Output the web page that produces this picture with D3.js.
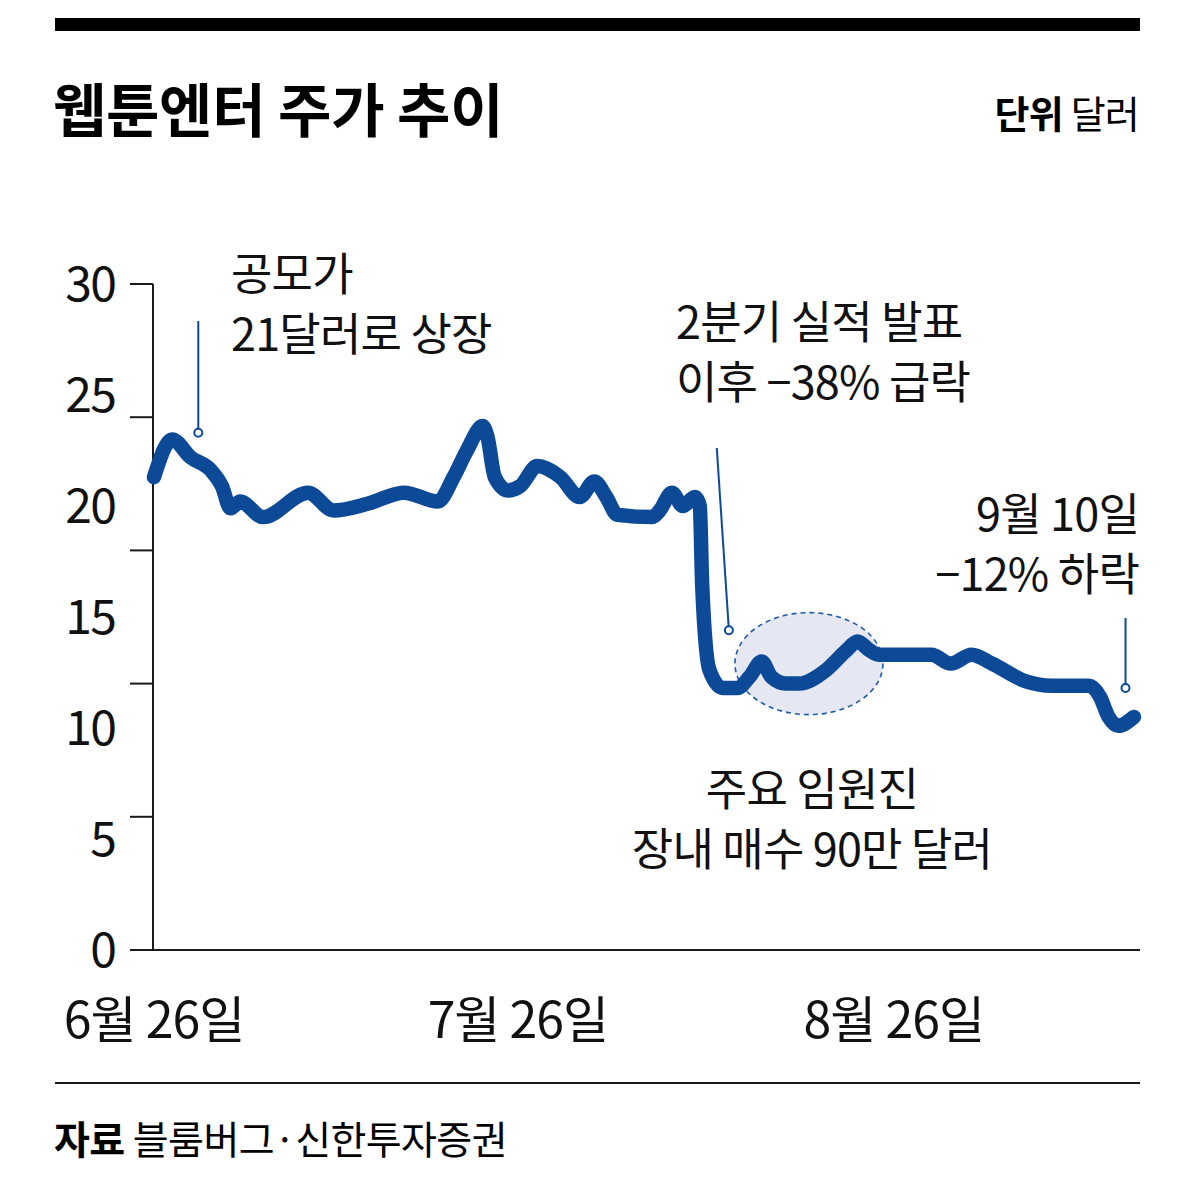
<!DOCTYPE html>
<html><head><meta charset="utf-8">
<script src="https://cdn.jsdelivr.net/npm/d3@7"></script>
<style>
body{margin:0;background:#fff;}
svg{display:block;font-family:"Noto Sans CJK KR","Noto Sans",sans-serif;}
</style></head>
<body><svg id="c" width="1200" height="1197"></svg>
<script>
// Day offsets from June 26 and closing prices (USD)
const days = [0,1.5,3,4.7,5.6,6.3,7.1,9,12.7,14.8,17.6,20.6,23.4,24.7,25.8,27.1,27.5,28.1,29.2,30.2,31.6,33.5,35.1,36.3,37.3,38.2,41.1,41.7,42.7,43.6,44.6,45.0,45.2,45.8,46.9,48.1,49.1,50.1,50.9,52.1,53.2,55.4,57.1,58.0,59.0,59.8,64.1,65.7,67.4,69.1,71.9,74.0,77.1,78.0,78.7,79.5,80.8];
const prices = [21.3,23.0,22.2,21.6,20.9,19.9,20.2,19.5,20.6,19.8,20.1,20.6,20.2,21.3,22.5,23.6,23.1,21.3,20.7,20.9,21.8,21.3,20.4,21.1,20.4,19.6,19.5,19.8,20.6,20.0,20.4,20.0,16.4,12.6,11.8,11.8,12.3,13.0,12.3,12.0,12.0,12.6,13.5,13.9,13.5,13.3,13.3,12.9,13.3,12.9,12.1,11.9,11.9,11.4,10.5,10.1,10.5];
const yLabelValues = [0,5,10,15,20,25,30];
const yTickValues = [0,6,12,18,24,30];
const xTickDays = [0,30,61];
const xTickLabels = ["6월 26일","7월 26일","8월 26일"];

const svg = d3.select("#c");
const x = d3.scaleLinear().domain([0,80.8]).range([154,1134]);
const y = d3.scaleLinear().domain([0,30]).range([950,284]);
const ink = "#1a1a1a", blue = "#0c4a97";

// top bar
svg.append("rect").attr("x",55).attr("y",18).attr("width",1085).attr("height",13).attr("fill","#000");
// title
svg.append("text").attr("x",53).attr("y",132).attr("font-size",58).attr("font-weight",700)
  .attr("letter-spacing",-0.3).attr("fill","#000").text("웹툰엔터 주가 추이");
const unit = svg.append("text").attr("x",1139).attr("y",128).attr("text-anchor","end").attr("font-size",38).attr("letter-spacing",-0.8).attr("fill","#000");
unit.append("tspan").attr("font-weight",700).text("단위 ");
unit.append("tspan").attr("font-weight",400).text("달러");

// y axis
svg.append("line").attr("x1",153).attr("x2",153).attr("y1",y(30)).attr("y2",y(0)).attr("stroke",ink).attr("stroke-width",2);
svg.selectAll(".yt").data(yTickValues).join("line").attr("x1",130).attr("x2",153)
  .attr("y1",d=>y(d)).attr("y2",d=>y(d)).attr("stroke",ink).attr("stroke-width",2);
svg.selectAll(".yl").data(yLabelValues).join("text").attr("x",115).attr("y",d=>y(d))
  .attr("dy","0.36em").attr("text-anchor","end").attr("font-size",48).attr("letter-spacing",-1.8)
  .attr("fill","#111").text(d=>d);
// baseline
svg.append("line").attr("x1",130).attr("x2",1140).attr("y1",y(0)).attr("y2",y(0)).attr("stroke",ink).attr("stroke-width",2);
// x labels
svg.selectAll(".xl").data(xTickDays).join("text").attr("x",d=>x(d)).attr("y",1038)
  .attr("text-anchor","middle").attr("font-size",50).attr("letter-spacing",-1).attr("fill","#111")
  .text((d,i)=>xTickLabels[i]);

// highlight ellipse
svg.append("ellipse").attr("cx",x(54)).attr("cy",y(12.9)).attr("rx",74).attr("ry",51)
  .attr("fill","#e5e7f3").attr("stroke","#1d5aa6").attr("stroke-width",1.6).attr("stroke-dasharray","5,4");

// price line
const pts = days.map((d,i)=>[d,prices[i]]);
svg.append("path").datum(pts)
  .attr("d",d3.line().x(d=>x(d[0])).y(d=>y(d[1])).curve(d3.curveMonotoneX))
  .attr("fill","none").attr("stroke",blue).attr("stroke-width",14.5)
  .attr("stroke-linejoin","round").attr("stroke-linecap","round");

// leaders
function leader(x1,y1,x2,y2){
  svg.append("line").attr("x1",x1).attr("y1",y1).attr("x2",x2).attr("y2",y2).attr("stroke",blue).attr("stroke-width",2);
  svg.append("circle").attr("cx",x2).attr("cy",y2).attr("r",4).attr("fill","#fff").attr("stroke",blue).attr("stroke-width",2);
}
leader(x(3.65),321,x(3.65),y(23.3));
leader(x(46.4),448,x(47.4),y(14.4));
leader(x(80.1),618,x(80.1),y(11.8));

// annotation texts
function txt(lines,xp,y0,anchor){
  lines.forEach((t,i)=>svg.append("text").attr("x",xp).attr("y",y0+i*60).attr("text-anchor",anchor)
    .attr("font-size",45).attr("letter-spacing",-0.8).attr("fill","#111").text(t));
}
txt(["공모가","21달러로 상장"],231,291,"start");
txt(["2분기 실적 발표","이후 −38% 급락"],676,339,"start");
txt(["9월 10일","−12% 하락"],1139,531,"end");
txt(["주요 임원진","장내 매수 90만 달러"],812,806,"middle");

// footer
svg.append("line").attr("x1",55).attr("x2",1140).attr("y1",1083).attr("y2",1083).attr("stroke",ink).attr("stroke-width",2);
const src = svg.append("text").attr("x",54).attr("y",1154).attr("font-size",39).attr("letter-spacing",-0.6).attr("fill","#000");
src.append("tspan").attr("font-weight",700).text("자료 ");
src.append("tspan").attr("font-weight",400).text("블룸버그·신한투자증권");
</script></body></html>
